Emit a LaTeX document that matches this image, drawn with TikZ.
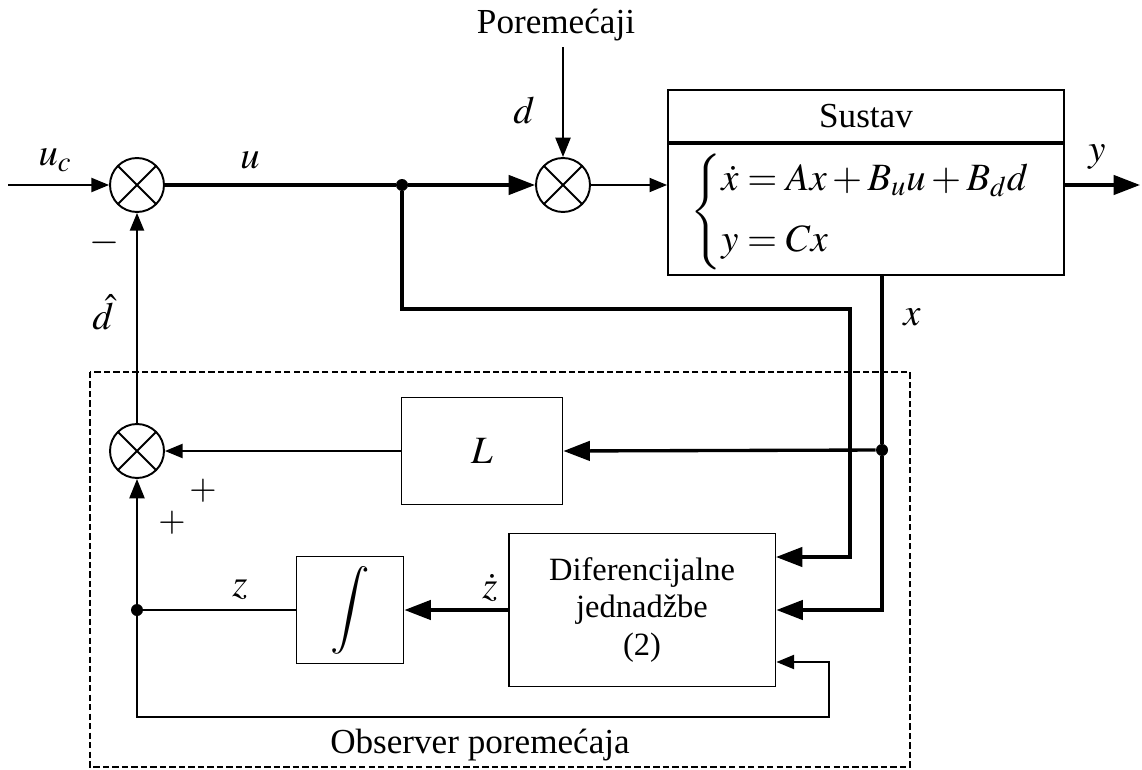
\documentclass[tikz,border=0pt]{standalone}
\usepackage{mathptmx}
\usepackage{fontspec}
\setmainfont{Liberation Serif}
\usetikzlibrary{arrows.meta,positioning,calc}

\begin{document}
\begin{tikzpicture}[x=0.02cm, y=-0.02cm,
  font=\fontsize{20}{23}\selectfont,
  sumnode/.style={
    circle, draw, line width=1.1pt,
    minimum size=1.08cm, inner sep=0pt,
    path picture={
      \draw[line width=1.1pt] (path picture bounding box.north west) -- (path picture bounding box.south east)
        (path picture bounding box.north east) -- (path picture bounding box.south west);}
  },
  blockbox/.style={rectangle, draw, line width=1.1pt, inner sep=0pt, align=center},
  mlbl/.style={font=\fontsize{22}{25}\selectfont},
  sig/.style={line width=1pt, -{Triangle[length=10pt,width=8pt]}},
  midsig/.style={line width=1.4pt, -{Triangle[length=11pt,width=8.5pt]}},
  bigsig/.style={line width=1.9pt, -{Triangle[length=15pt,width=11pt]}},
  bigline/.style={line width=1.9pt},
  jdot/.style={circle, fill, inner sep=0pt, minimum size=0.24cm}
]
\useasboundingbox (0,0) rectangle (1142,770);

\node[sumnode] (s1) at (137,185) {};
\node[sumnode] (s2) at (563,185) {};
\node[sumnode] (s3) at (137,451) {};

\node[blockbox, minimum width=7.92cm, minimum height=1.04cm] (sushead) at (866,116) {Sustav};
\node[blockbox, minimum width=7.92cm, minimum height=2.62cm, anchor=north] (susbody) at (sushead.south) {};
\node[anchor=west, inner sep=0pt, mlbl] (suseq) at (690,212)
  {$\left\{\begin{array}{@{}l@{}}\dot{x} = Ax + B_u u + B_d d\\[10pt] y = Cx\end{array}\right.$};

\node[blockbox, minimum width=3.22cm, minimum height=2.14cm, mlbl] (lgain) at (482,451) {$L$};
\node[blockbox, minimum width=2.14cm, minimum height=2.14cm] (integ) at (350,610)
  {\scalebox{1.25}{$\displaystyle\int$}};
\node[blockbox, minimum width=5.34cm, minimum height=3.06cm,
  font=\fontsize{18.5}{21.5}\selectfont] (difeq) at (642,610) {Diferencijalne\\jednadžbe\\(2)};

\node (dist) at (556,25) {Poremećaji};
\node (obslbl) at (480,745) {Observer poremećaja};

\node[jdot] (ujn) at (402,185) {};
\node[jdot] (xjn) at (882,450) {};
\node[jdot] (zjn) at (137,610) {};

\coordinate (ucin) at (8,185);
\coordinate (yout) at (1140,185);
\coordinate (ucorner) at (850,309);
\coordinate (uend) at (776,557);
\coordinate (fbtop) at (829,662);
\coordinate (fbbot) at (829,717);
\coordinate (fbleft) at (137,717);

\draw[sig] (ucin) -- (s1);
\draw[bigline] (s1) -- (ujn);
\draw[bigsig] (ujn) -- (s2);
\draw[midsig] (dist.south -| s2) -- (s2);
\draw[sig] (s2) -- (s2 -| susbody.west);
\draw[bigsig] (susbody.east |- s2) -- (yout);

\draw[bigline] (susbody.south -| xjn) -- (xjn);
\draw[bigsig] (xjn) -- (lgain.east);
\draw[bigsig] (xjn) |- (difeq.east);
\draw[bigsig] (ujn) |- (ucorner) |- (uend);

\draw[sig] (lgain) -- (s3);
\draw[sig] (s3) -- (s1);
\draw[bigsig] (difeq) -- (integ);
\draw[midsig] (integ) -- (zjn) -- (s3);
\draw[sig] (zjn) -- (fbleft) -- (fbbot) -- (fbtop) -- (fbtop -| difeq.east);

\draw[dashed, line width=1pt, dash pattern=on 3.6pt off 1.8pt] (90,372) rectangle (910,767);

\node[mlbl] at (55,160) {$u_c$};
\node[mlbl] at (250,160) {$u$};
\node[mlbl] at (524,110) {$d$};
\node[mlbl] at (1097,157) {$y$};
\node[mlbl] at (912,317) {$x$};
\node[mlbl] at (103,312) {$\hat{d}$};
\node[mlbl] at (105,243) {$-$};
\node at (203,491) {$+$};
\node at (172,523) {$+$};
\node[mlbl] at (240,590) {$z$};
\node[mlbl] at (490,588) {$\dot{z}$};
\end{tikzpicture}
\end{document}
